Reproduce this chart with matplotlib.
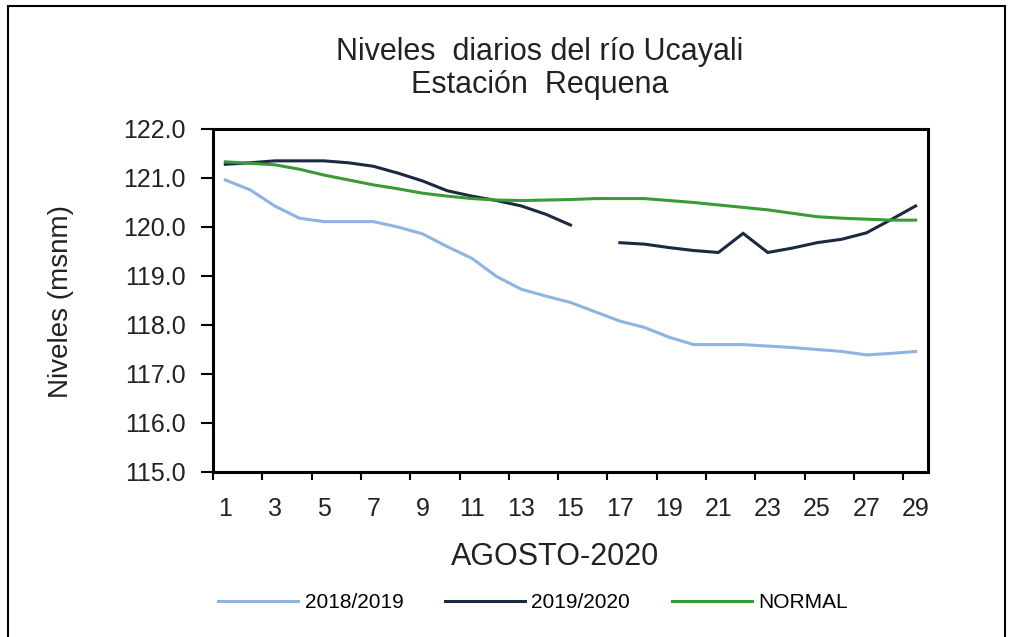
import numpy as np
import matplotlib
matplotlib.use("Agg")
import matplotlib.pyplot as plt
from matplotlib.patches import Rectangle

plt.rcParams['font.family'] = ['Liberation Sans', 'DejaVu Sans']

days = list(range(1, 30))
s2018 = [120.96, 120.76, 120.43, 120.18, 120.11, 120.11, 120.11, 120.00, 119.86, 119.60,
         119.36, 118.99, 118.73, 118.59, 118.46, 118.27, 118.08, 117.95, 117.75, 117.60,
         117.60, 117.60, 117.57, 117.54, 117.50, 117.46, 117.39, 117.42, 117.46]
s2019 = [121.28, 121.31, 121.35, 121.35, 121.35, 121.31, 121.24, 121.10, 120.94, 120.74,
         120.63, 120.54, 120.43, 120.26, 120.04, np.nan, 119.68, 119.65, 119.58, 119.52,
         119.48, 119.87, 119.48, 119.57, 119.68, 119.75, 119.88, 120.15, 120.43]
normal = [121.33, 121.30, 121.27, 121.18, 121.06, 120.96, 120.86, 120.78, 120.69, 120.63,
          120.58, 120.55, 120.54, 120.55, 120.56, 120.58, 120.58, 120.58, 120.54, 120.50,
          120.45, 120.40, 120.35, 120.28, 120.21, 120.18, 120.16, 120.14, 120.14]
labels = ['2018/2019', '2019/2020', 'NORMAL']
colors = ['#8db4e2', '#1b2a41', '#3a9a35']
yticks = [115.0, 116.0, 117.0, 118.0, 119.0, 120.0, 121.0, 122.0]

fig = plt.figure(figsize=(10.09, 6.37), dpi=100)
ax = fig.add_axes([213/1009, 1-472/637, (928-213)/1009, (472-129)/637])

for vals, lab, c in zip([s2018, s2019, normal], labels, colors):
    ax.plot(days, vals, color=c, lw=2.2, label=lab, solid_joinstyle='miter')

ax.set_xlim(0.5, 29.5)
ax.set_ylim(115, 122)
ax.set_yticks(yticks)
ax.set_yticklabels([f"{v:.1f}" for v in yticks], fontsize=18, color='#222222')
ax.set_xticks(days[::2])
ax.set_xticklabels([str(d) for d in days[::2]], fontsize=18, color='#222222')
ax.tick_params(axis='x', length=0, pad=18)
ax.set_xticks(np.arange(0.5, 30, 2), minor=True)
ax.tick_params(axis='x', which='minor', length=6, width=1.5, direction='out')
ax.tick_params(axis='y', length=8.5, width=1.5, direction='out', pad=11)
for sp in ax.spines.values():
    sp.set_linewidth(2.2)

fig.text(540/1009, 1-52/637, 'Niveles  diarios del río Ucayali', ha='center', va='center', fontsize=22, color='#222222')
fig.text(540/1009, 1-85/637, 'Estación  Requena', ha='center', va='center', fontsize=22, color='#222222')
fig.text(61/1009, 1-301/637, 'Niveles (msnm)', ha='center', va='center', rotation=90, fontsize=20, color='#222222')
fig.text(555/1009, 1-557/637, 'AGOSTO-2020', ha='center', va='center', fontsize=22, color='#222222')

fig.legend(loc='center', bbox_to_anchor=(533/1009, 1-603/637), ncol=3, frameon=False,
           fontsize=15, handlelength=3.85, handletextpad=0.3, columnspacing=2.0)

fig.patches.append(Rectangle((8/1009, -0.05), (1005-8)/1009, 1.05-6/637, transform=fig.transFigure,
                             fill=False, edgecolor='black', lw=1.5))

fig.savefig('out.png', dpi=100)
